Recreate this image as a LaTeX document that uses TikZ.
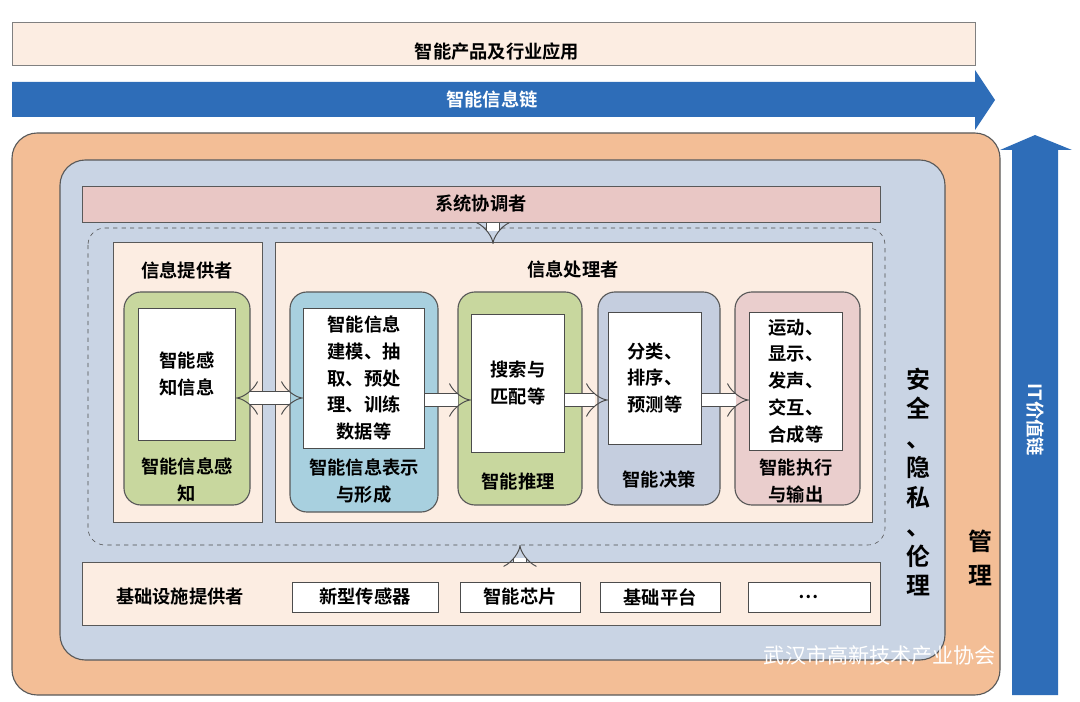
\documentclass[tikz,border=0pt]{standalone}
\usepackage{fontspec}
\newfontfamily\cjk{Noto Sans CJK SC}[BoldFont={Noto Sans CJK SC Bold}]
\usetikzlibrary{arrows.meta,positioning}
\definecolor{peach}{HTML}{FCEDE2}
\definecolor{orangebg}{HTML}{F3BE96}
\definecolor{bluebg}{HTML}{C9D4E4}
\definecolor{pinkbar}{HTML}{E9C7C5}
\definecolor{leaf}{HTML}{C8D79E}
\definecolor{sky}{HTML}{A8D0DF}
\definecolor{slate}{HTML}{C5CEDF}
\definecolor{rose}{HTML}{EACECD}
\definecolor{chain}{HTML}{2E6DB8}
\tikzset{
  txt/.style={font=\cjk\bfseries\fontsize{13}{19}\selectfont, align=center},
  panel/.style={draw=gray!70!black, rounded corners=12pt, line width=0.8pt},
  whitebox/.style={draw=black!70, fill=white, line width=0.6pt},
  fat/.style={draw=gray!60!black, double=white, double distance=8pt, line width=0.7pt},
}
\begin{document}
\begin{tikzpicture}[x=0.025cm,y=-0.025cm]
\useasboundingbox (0,0) rectangle (1080,702);
% top bars
\draw[draw=gray, fill=peach] (12,22) rectangle (975,65);
\node[txt] (app) at (497,52) {智能产品及行业应用};
\fill[chain] (12,82) -- (975,82) -- (975,70) -- (995,100) -- (975,130) -- (975,117) -- (12,117) -- cycle;
\node[txt, text=white] (chainlbl) at (492,99) {智能信息链};
% outer frames
\draw[panel, fill=orangebg, rounded corners=18pt] (12,133) rectangle (1000,695);
\fill[chain] (1012,695) -- (1012,150) -- (1000,150) -- (1035,135) -- (1072,150) -- (1058,150) -- (1058,695) -- cycle;
\node[txt, text=white, rotate=-90] (itv) at (1035,420) {IT价值链};
\draw[panel, fill=bluebg, rounded corners=18pt] (60,160) rectangle (945,660);
\draw[draw=gray!70!black, fill=pinkbar] (82,186) rectangle (880,222);
\node[txt] (coord) at (481,204) {系统协调者};
\draw[dashed, draw=gray!60!black, rounded corners=12pt] (88,228) rectangle (885,545);
\draw[draw=gray!70!black, fill=peach] (113,242) rectangle (262,522);
\node[txt] (provider) at (187,270) {信息提供者};
\draw[draw=gray!70!black, fill=peach] (275,242) rectangle (872,522);
\node[txt] (processor) at (573,270) {信息处理者};
% stages
\draw[panel, fill=leaf] (124,292) rectangle (250,505);
\node[whitebox, txt, text width=2.2cm, minimum height=3.3cm] (sense) at (187,374) {智能感\\知信息};
\node[txt] (senselbl) at (187,480) {智能信息感\\知};
\draw[panel, fill=sky] (290,292) rectangle (438,512);
\node[whitebox, txt, text width=2.8cm, minimum height=3.5cm] (model) at (364,378) {智能信息\\建模、抽\\取、预处\\理、训练\\数据等};
\node[txt] (modellbl) at (364,481) {智能信息表示\\与形成};
\draw[panel, fill=leaf] (458,292) rectangle (582,505);
\node[whitebox, txt, text width=2.1cm, minimum height=3.45cm] (search) at (518,383) {搜索与\\匹配等};
\node[txt] (searchlbl) at (518,482) {智能推理};
\draw[panel, fill=slate] (598,292) rectangle (720,505);
\node[whitebox, txt, text width=2.1cm, minimum height=3.3cm] (decide) at (655,378) {分类、\\排序、\\预测等};
\node[txt] (decidelbl) at (659,480) {智能决策};
\draw[panel, fill=rose] (735,292) rectangle (860,505);
\node[whitebox, txt, text width=2.1cm, minimum height=3.45cm] (act) at (796,381) {运动、\\显示、\\发声、\\交互、\\合成等};
\node[txt] (actlbl) at (796,481) {智能执行\\与输出};
% arrows
\draw[fat, {Implies}-{Implies}] (sense.east |- 0,398) -- (model.west |- 0,398);
\draw[fat, -{Implies}] (model.east |- 0,400) -- (search.west |- 0,400);
\draw[fat, -{Implies}] (search.east |- 0,400) -- (decide.west |- 0,400);
\draw[fat, -{Implies}] (decide.east |- 0,400) -- (act.west |- 0,400);
\coordinate (downtop) at (493,223);
\coordinate (downend) at (493,244);
\draw[fat, -{Implies}] (downtop) -- (downend);
% infrastructure
\draw[draw=gray!70!black, fill=peach] (82,562) rectangle (880,625);
\coordinate (uptop) at (520,545);
\coordinate (upbot) at (520,562);
\draw[fat, -{Implies}] (upbot) -- (uptop);
\node[txt] (infra) at (180,597) {基础设施提供者};
\node[whitebox, txt, minimum width=3.65cm, minimum height=0.75cm] (sensor) at (365,597) {新型传感器};
\node[whitebox, txt, minimum width=3cm, minimum height=0.75cm] (chip) at (520,597) {智能芯片};
\node[whitebox, txt, minimum width=3cm, minimum height=0.75cm] (platform) at (660,597) {基础平台};
\node[whitebox, txt, minimum width=3.05cm, minimum height=0.75cm] (more) at (809,597) {…};
% side labels
\node[txt, font=\cjk\bfseries\fontsize{17}{21}\selectfont] (ethics) at (918,482) {安\\全\\、\\隐\\私\\、\\伦\\理};
\node[txt, font=\cjk\bfseries\fontsize{17}{24}\selectfont] (manage) at (980,558) {管\\理};
\node[font=\cjk\fontsize{15}{18}\selectfont, text=white] (mark) at (880,655) {武汉市高新技术产业协会};
\end{tikzpicture}
\end{document}
